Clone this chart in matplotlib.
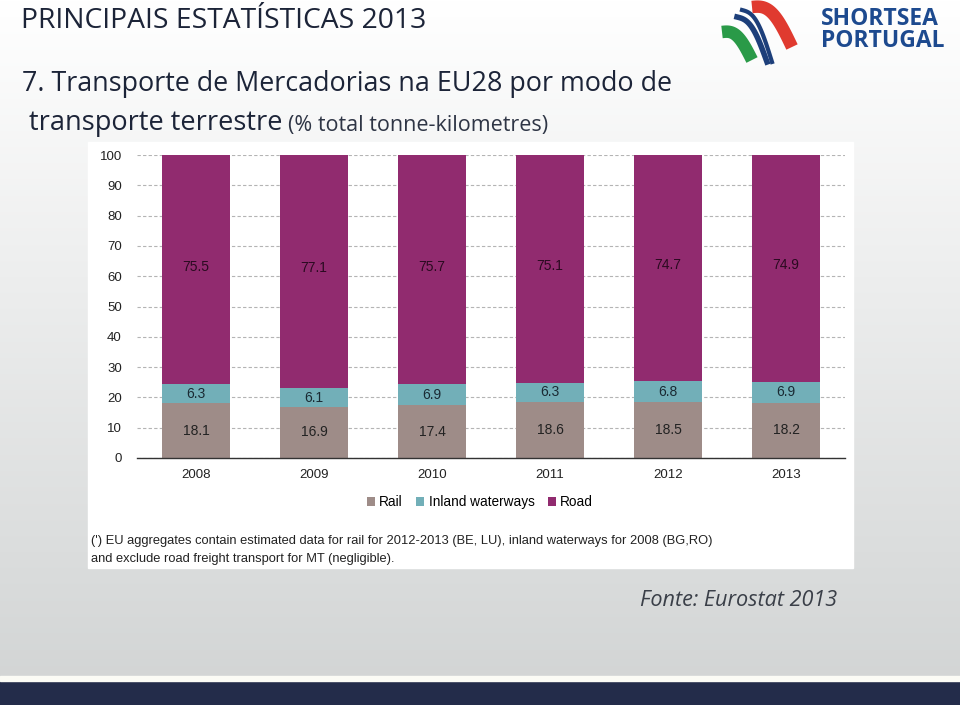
import numpy as np
import matplotlib.pyplot as plt
from matplotlib.patches import Rectangle

years = ['2008', '2009', '2010', '2011', '2012', '2013']
rail = [18.1, 16.9, 17.4, 18.6, 18.5, 18.2]
inland = [6.3, 6.1, 6.9, 6.3, 6.8, 6.9]
road = [75.5, 77.1, 75.7, 75.1, 74.7, 74.9]

W, H = 960, 705


def fx(x):
    return x / W


def fy(y):
    return 1 - y / H


fig = plt.figure(figsize=(9.6, 7.05), dpi=100)

# slide background (light gradient) and footer band
bg = fig.add_axes([0, 0, 1, 1], zorder=-10)
grad = np.linspace(0, 1, 256).reshape(-1, 1)
top = np.array([1.0, 1.0, 1.0])
bot = np.array([0.82, 0.83, 0.83])
img = top + (bot - top) * grad[..., None]
bg.imshow(img, extent=[0, 1, 0, 1], aspect='auto', origin='upper')
bg.add_patch(Rectangle((0, 0), 1, fy(681), color='#232c4a'))
bg.add_patch(Rectangle((0, fy(681)), 1, fy(676) - fy(681), color='#fbfbf5'))
# white chart box
bg.add_patch(Rectangle((fx(88), fy(568)), fx(853) - fx(88), fy(142) - fy(568), color='white'))
bg.set_xlim(0, 1)
bg.set_ylim(0, 1)
bg.axis('off')

# titles
navy = '#1c2438'
fig.text(fx(21), fy(21), 'PRINCIPAIS ESTATÍSTICAS 2013', fontsize=20.3, family='Open Sans',
         color=navy, va='center', ha='left')
fig.text(fx(22), fy(84), '7. Transporte de Mercadorias na EU28 por modo de', fontsize=19.4,
         family='Open Sans', color=navy, va='center', ha='left')
fig.text(fx(29), fy(123), 'transporte terrestre', fontsize=19.5, family='Open Sans',
         color=navy, va='center', ha='left')
fig.text(fx(288), fy(126), '(% total tonne-kilometres)', fontsize=15.5, family='Open Sans',
         color='#2e3545', va='center', ha='left')

# logo
lg = fig.add_axes([fx(712), fy(72), fx(100), fy(0) - fy(72)])
t = np.linspace(0, 1, 50)
lg.plot(10 + 30 * t, 40 - 28 * t + 10 * np.sin(np.pi * t), color='#2a9a48', lw=9, solid_capstyle='butt')
lg.plot(25 + 30 * t, 55 - 45 * t + 12 * np.sin(np.pi * t), color='#1d3f7a', lw=4)
lg.plot(30 + 30 * t, 62 - 52 * t + 14 * np.sin(np.pi * t), color='#1d3f7a', lw=3)
lg.plot(40 + 40 * t, 65 - 40 * t + 14 * np.sin(np.pi * t), color='#e03a2f', lw=9, solid_capstyle='butt')
lg.set_xlim(0, 100)
lg.set_ylim(0, 72)
lg.axis('off')
fig.text(fx(821), fy(19), 'SHORTSEA', fontsize=16.5, fontweight='bold', family='Open Sans',
         color='#1d4a8f', va='center', ha='left')
fig.text(fx(821), fy(41), 'PORTUGAL', fontsize=16.5, fontweight='bold', family='Open Sans',
         color='#1d4a8f', va='center', ha='left')

# chart
ax = fig.add_axes([fx(137), fy(458), fx(845) - fx(137), fy(155) - fy(458)])
ax.set_facecolor('white')
x = np.arange(len(years))
c_rail, c_inland, c_road = '#9e8c88', '#72afb8', '#912b6f'
bw = 0.57
rail_a = np.array(rail)
inland_a = np.array(inland)
road_a = np.array(road)
ax.bar(x, rail_a, bw, color=c_rail, label='Rail', zorder=3)
ax.bar(x, inland_a, bw, bottom=rail_a, color=c_inland, label='Inland waterways', zorder=3)
ax.bar(x, road_a, bw, bottom=rail_a + inland_a, color=c_road, label='Road', zorder=3)

lab_kw = dict(ha='center', va='center', fontsize=10, family='Liberation Sans', zorder=4)
for i in range(len(years)):
    ax.text(x[i], rail_a[i] / 2, f'{rail[i]:.1f}', color='#222222', **lab_kw)
    ax.text(x[i], rail_a[i] + inland_a[i] / 2, f'{inland[i]:.1f}', color='#1a2a33', **lab_kw)
    ax.text(x[i], rail_a[i] + inland_a[i] + road_a[i] / 2 + 1, f'{road[i]:.1f}', color='#2a0a20', **lab_kw)

ax.set_xlim(-0.5, len(years) - 0.5)
ax.set_ylim(0, 100)
ax.set_yticks(range(0, 101, 10))
ax.set_xticks(x)
ax.set_xticklabels(years)
ax.yaxis.grid(True, color='#b4b4b4', linestyle=(0, (3, 2)), linewidth=0.8, zorder=0)
ax.set_axisbelow(True)
for s in ['top', 'right', 'left']:
    ax.spines[s].set_visible(False)
ax.spines['bottom'].set_color('#333333')
ax.spines['bottom'].set_linewidth(1.0)
ax.spines['bottom'].set_zorder(5)
ax.tick_params(length=0, labelsize=9.5, labelcolor='#222222', pad=8)
ax.tick_params(axis='y', pad=11)
for lbl in ax.get_xticklabels() + ax.get_yticklabels():
    lbl.set_family('Liberation Sans')

ax.legend(loc='center', bbox_to_anchor=(fx(480 - 137) / (fx(845) - fx(137)), (fy(502) - fy(458)) / (fy(155) - fy(458))),
          ncol=3, frameon=False, handlelength=0.6, handleheight=0.6,
          handletextpad=0.3, columnspacing=1.0, prop={'family': 'Liberation Sans', 'size': 9.8})

fig.text(fx(91), fy(541), "(') EU aggregates contain estimated data for rail for 2012-2013 (BE, LU), inland waterways for 2008 (BG,RO)",
         fontsize=9.25, family='Liberation Sans', color='#222222', va='center', ha='left')
fig.text(fx(91), fy(559), 'and exclude road freight transport for MT (negligible).',
         fontsize=9.25, family='Liberation Sans', color='#222222', va='center', ha='left')

fig.text(fx(837), fy(600), 'Fonte: Eurostat 2013', fontsize=15.6, style='italic', family='Open Sans',
         color='#3a3f48', va='center', ha='right')

fig.savefig('out.png', dpi=100)
